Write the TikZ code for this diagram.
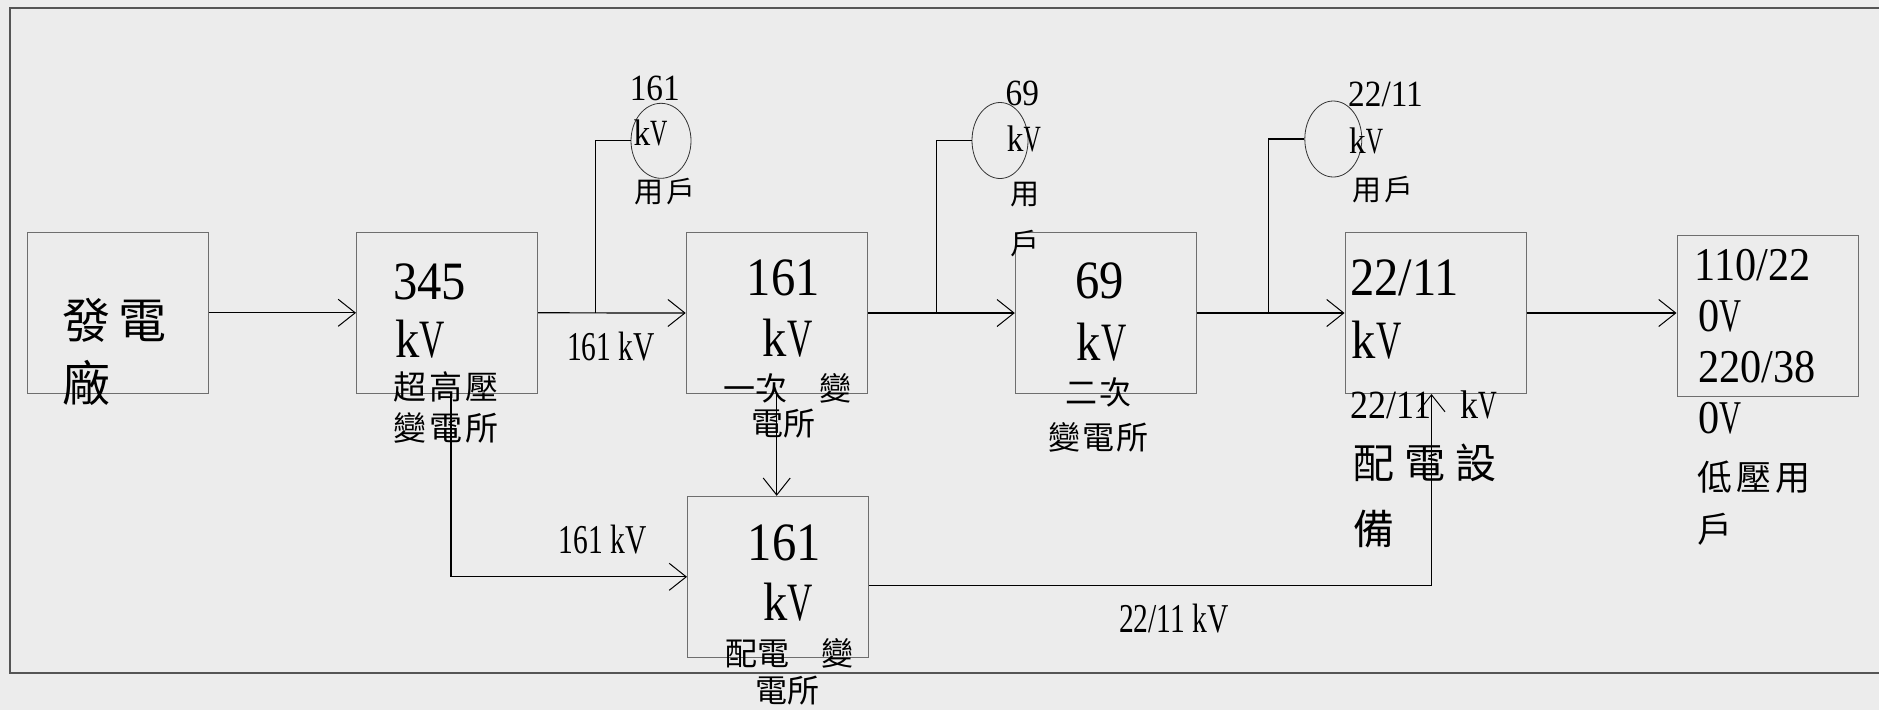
\documentclass[tikz,border=0pt]{standalone}
\usepackage{fontspec}
\setmainfont{Liberation Serif}
\newfontfamily\lat[FakeStretch=0.9]{Liberation Serif}
\newfontfamily\latn[FakeStretch=0.72]{Liberation Serif}
\newfontfamily\cjk{Noto Sans CJK TC}
\usetikzlibrary{arrows.meta,shapes.geometric}
\definecolor{bg}{RGB}{236,236,236}
\definecolor{boxline}{RGB}{110,110,110}
\definecolor{frameline}{RGB}{85,85,85}
\newcommand\nV{\scalebox{0.72}[1]{V}}
\newcommand\fs[1]{\fontsize{#1pt}{#1pt}\selectfont}
\begin{document}
\begin{tikzpicture}[x=1pt,y=-1pt,
  box/.style={draw=boxline,line width=1pt,rectangle,inner sep=0,minimum width=181pt,minimum height=161pt},
  usr/.style={draw=black!80,line width=0.8pt,ellipse,inner sep=0},
  conn/.style={draw=black,line width=1.2pt},
  arr/.style={conn,-{Straight Barb[length=17pt,width=27pt,line width=1pt]}},
  txt/.style={inner sep=0,anchor=base west},
  big/.style={txt,font=\lat\fs{54}},
  mid/.style={txt,font=\lat\fs{47}},
  sml/.style={txt,font=\lat\fs{37}},
  lbl/.style={txt,font=\latn\fs{41}},
  cjA/.style={txt,font=\cjk\fs{48}},
  cjB/.style={txt,font=\cjk\fs{33}},
  cjC/.style={txt,font=\cjk\fs{32}},
  cjF/.style={txt,font=\cjk\fs{41}},
  cjG/.style={txt,font=\cjk\fs{35}},
  cjU/.style={txt,font=\cjk\fs{29}}
]
\path[fill=bg] (0,0) rectangle (1879,710);
\useasboundingbox (0,0) rectangle (1879,710);
\draw[frameline,line width=1.5pt] (1879,8) -- (10,8) -- (10,673) -- (1879,673);

% boxes
\node[box] (A) at (117.7,312.8) {};
\node[box] (B) at (447,312.8) {};
\node[box] (C) at (776.7,313) {};
\node[box] (D) at (1105.8,313) {};
\node[box] (F) at (1435.5,313) {};
\node[box] (G) at (1767.5,315.5) {};
\node[box] (E) at (778,576.8) {};

% user ellipses
\node[usr,minimum width=60pt,minimum height=75pt] (U1) at (661,140.8) {};
\node[usr,minimum width=56pt,minimum height=76pt] (U2) at (1000,140.5) {};
\node[usr,minimum width=57pt,minimum height=76pt] (U3) at (1333.3,139) {};

% junctions
\coordinate (J1) at (595.7,313);
\coordinate (J2) at (936.7,313);
\coordinate (J3) at (1268.3,313);

% texts: box A
\node[cjA] (a1) at (62,338) {發\hspace{8pt}電};
\node[cjA] (a2) at (62,401) {廠};
% box B
\node[big] (b1) at (393,299) {345};
\node[big] (b2) at (395,357) {k\nV};
\node[cjB] (b3) at (393.5,399.4) {超\hspace{3pt}高\hspace{3pt}壓};
\node[cjB] (b4) at (393.5,440.4) {變\hspace{3pt}電\hspace{3pt}所};
% box C
\node[big] (c1) at (746.5,295) {161};
\node[big] (c2) at (762.7,356.7) {k\nV};
\node[cjC] (c3) at (723.7,400.4) {一次　變};
\node[cjC] (c4) at (751.7,435.4) {電所};
% box D
\node[big] (d1) at (1075,298) {69};
\node[big] (d2) at (1076.7,360) {k\nV};
\node[cjC] (d3) at (1065.4,404.1) {二\hspace{2pt}次};
\node[cjC] (d4) at (1048.7,449.1) {變\hspace{2pt}電\hspace{2pt}所};
% box E
\node[big] (e1) at (747.7,560) {161};
\node[big] (e2) at (763,620) {k\nV};
\node[cjC] (e3) at (725.4,665.4) {配電　變};
\node[cjC] (e4) at (755.4,702.4) {電所};
% box F
\node[big] (f1) at (1350,295) {22/11};
\node[big] (f2) at (1351.7,358.3) {k\nV};
\node[txt,font=\lat\fs{40}] (f3) at (1350.5,418.3) {22/11\hspace{29pt}k\nV};
\node[cjF] (f4) at (1353.4,478.4) {配\hspace{10pt}電\hspace{10pt}設};
\node[cjF] (f5) at (1353.4,544.7) {備};
% box G
\node[mid] (g1) at (1694.3,280) {110/22};
\node[mid] (g2) at (1698,331.7) {0\nV};
\node[mid] (g3) at (1698,382.7) {220/38};
\node[mid] (g4) at (1698,433.3) {0\nV};
\node[cjG] (g5) at (1697.6,490.5) {低\hspace{4pt}壓\hspace{4pt}用};
\node[cjG] (g6) at (1697.6,542.2) {戶};
% users
\node[sml] (u1a) at (629.6,100) {161};
\node[sml] (u1b) at (633.3,145) {k\nV};
\node[cjU] (u1c) at (633.8,202.7) {用\hspace{4pt}戶};
\node[sml] (u2a) at (1005.5,105) {69};
\node[sml] (u2b) at (1006.7,151.7) {k\nV};
\node[cjU] (u2c) at (1010.5,204.4) {用};
\node[cjU] (u2d) at (1010.5,254.4) {戶};
\node[sml] (u3a) at (1348,106.7) {22/11};
\node[sml] (u3b) at (1349,153.3) {k\nV};
\node[cjU] (u3c) at (1351.8,200.7) {用\hspace{4pt}戶};
% connector labels
\node[lbl] (l1) at (566.8,360) {161 kV};
\node[lbl] (l2) at (558.5,553) {161 kV};
\node[lbl] (l3) at (1119,632) {22/11 kV};

% connectors
\draw[arr] (A.east) -- (B.west);
\draw[arr] (B.east) -- (C.west);
\draw[conn] (J1) |- (U1.west);
\draw[arr] (C.east) -- (D.west);
\draw[conn] (J2) |- (U2.west);
\draw[arr] (D.east) -- (F.west);
\draw[conn] (J3) |- (U3.west);
\draw[arr] (F.east) -- (F.east -| G.west);
\draw[arr] ([xshift=4pt]B.south) |- (E.west);
\draw[arr] (C.south) -- (C.south |- E.north);
\draw[arr] ([yshift=-9pt]E.east) -| ([xshift=-4pt]F.south);
\end{tikzpicture}
\end{document}
